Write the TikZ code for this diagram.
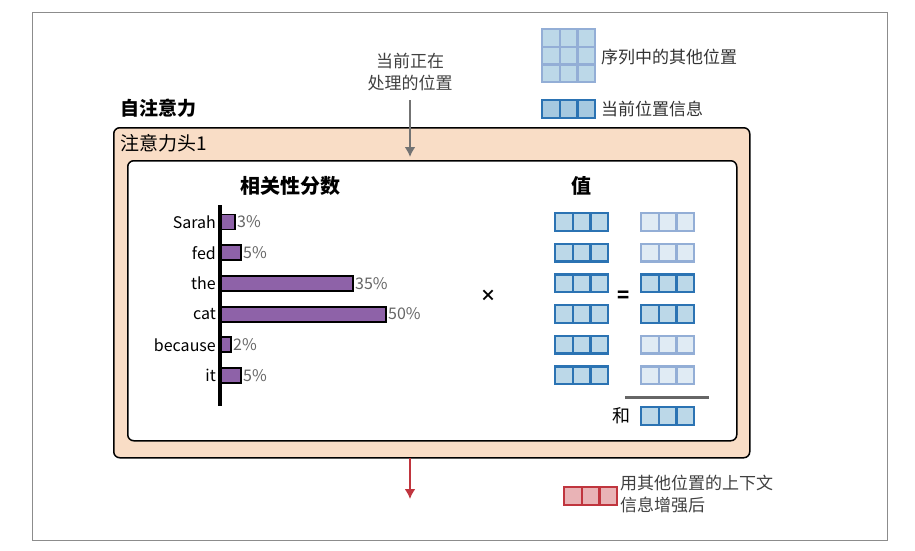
\documentclass[tikz,border=0pt]{standalone}
\usepackage{fontspec}
\setmainfont{Noto Sans CJK SC}
\usetikzlibrary{arrows.meta}
\begin{document}
\begin{tikzpicture}[x=1pt,y=-1pt,
  lbl/.style={font=\fontsize{17}{22}\selectfont,inner sep=0pt},
  pct/.style={font=\fontsize{16}{18}\selectfont,text=black!60,anchor=west,inner sep=1pt},
  word/.style={font=\fontsize{16}{18}\selectfont,anchor=east,inner sep=1pt},
  bar/.style={fill=barc,draw=black,line width=1.8pt}]
\definecolor{barc}{HTML}{8E62A8}
\definecolor{peach}{HTML}{F9DDC6}
\definecolor{dkb}{HTML}{2B73B3}\definecolor{dkf}{HTML}{BCD8E8}
\definecolor{ltb}{HTML}{93AED6}\definecolor{ltf}{HTML}{E0EBF4}
\definecolor{rdb}{HTML}{C0353E}\definecolor{rdf}{HTML}{E9B3B6}
\useasboundingbox (0,0) rectangle (915,550);
\draw[black!45] (32,12) rectangle (887,540);
\newcommand\cells[6]{% x y border fill rows name
  \foreach \r in {1,...,#5}{\foreach \c in {0,1,2}{
    \draw[#3,fill=#4,line width=2.2pt] ({#1+\c*17.7},{#2+(\r-1)*17.7}) rectangle ++(17.7,17.7);}}
  \node[inner sep=0pt] (#6) at ({#1+26.5},{#2+#5*8.85}) {};}
% legend
\cells{542}{29}{ltb}{dkf}{3}{lg1}
\node[lbl,anchor=west,text=black!80] (lt1) at (601,57) {序列中的其他位置};
\cells{542}{100}{dkb}{dkf!85!dkb}{1}{lg2}
\node[lbl,anchor=west,text=black!80] (lt2) at (601,109) {当前位置信息};
% boxes
\node[draw=black,line width=1.5pt,fill=peach,rounded corners=6pt,minimum width=636,minimum height=330,anchor=north west] (head) at (113,127) {};
\node[draw=black,line width=1.5pt,fill=white,rounded corners=6pt,minimum width=609,minimum height=280,anchor=north west] (inner) at (127,160) {};
\node[lbl,font=\fontsize{19}{22}\selectfont\bfseries,anchor=west] (sa) at (120,108) {自注意力};
\node[lbl,font=\fontsize{19}{22}\selectfont,anchor=west] (h1) at (120,143) {注意力头1};
\node[lbl,align=center,text=black!75] (cur) at (410,72) {当前正在\\处理的位置};
\coordinate (tp) at (410,100);
\coordinate (tb) at (410,157);
\draw[black!55,line width=2.5pt,-{Latex[length=10pt,width=11pt]}] (tp) -- (tb);
\coordinate (bs) at (410,458);
\coordinate (bt) at (410,499);
\draw[rdb,line width=2.5pt,-{Latex[length=10pt,width=11pt]}] (bs) -- (bt);
\cells{564}{487}{rdb}{rdf}{1}{lg3}
\node[lbl,anchor=west,align=left,text=black!75] (lt3) at (620,494) {用其他位置的上下文\\信息增强后};
% scores
\node[lbl,font=\fontsize{20}{22}\selectfont\bfseries] (rs) at (290,186) {相关性分数};
\node[lbl,font=\fontsize{20}{22}\selectfont\bfseries] (val) at (581,186) {值};
\foreach \w/\l/\p/\i in {235/Sarah/3/1,241/fed/5/2,353/the/35/3,386/cat/50/4,231/because/2/5,241/it/5/6}{
  \pgfmathsetmacro\yy{222+(\i-1)*30.7}
  \draw[bar] (220,\yy-7.5) rectangle (\w,\yy+7.5);
  \node[word] at (217,\yy) {\l};
  \node[pct] at (\w+1,\yy) {\p\%};
}
\draw[black,line width=3.5pt] (220,205) -- (220,406);
\node[font=\bfseries\fontsize{16}{16}\selectfont] (times) at (488,296) {×};
\node[font=\bfseries\fontsize{20}{20}\selectfont] (eq) at (624,297) {=};
\foreach \i in {1,...,6}{
  \pgfmathsetmacro\yy{213+(\i-1)*30.7}
  \cells{555}{\yy}{dkb}{dkf}{1}{v\i}
}
\foreach \i/\b/\f in {1/ltb/ltf,2/ltb/ltf,3/dkb/dkf,4/dkb/dkf,5/ltb/ltf,6/ltb/ltf}{
  \pgfmathsetmacro\yy{213+(\i-1)*30.7}
  \cells{641}{\yy}{\b}{\f}{1}{w\i}
}
\draw[black!60,line width=3pt] (625,397) -- (709,397);
\cells{641}{407}{dkb}{dkf}{1}{sum}
\node[lbl,font=\fontsize{18}{20}\selectfont] (he) at (621,416) {和};
\end{tikzpicture}
\end{document}
